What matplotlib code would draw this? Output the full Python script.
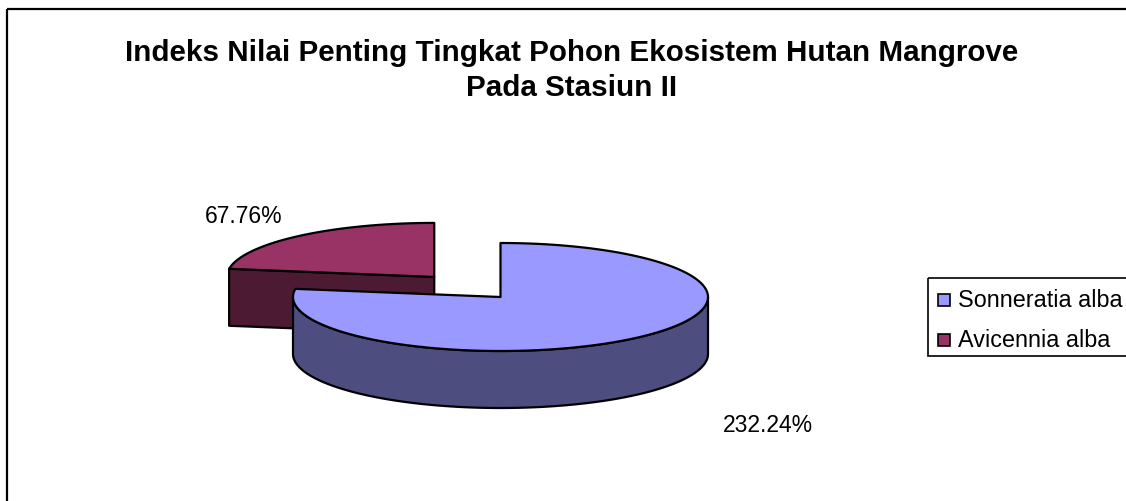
import numpy as np
import matplotlib
matplotlib.use("Agg")
import matplotlib.pyplot as plt
from matplotlib.patches import Polygon, Rectangle

plt.rcParams['font.family'] = ['Liberation Sans', 'DejaVu Sans']

# data
species = ["Sonneratia alba", "Avicennia alba"]
inp_values = [232.24, 67.76]
explode = [0.0, 0.49]
top_colors = ["#9999FF", "#993366"]
side_colors = ["#4D4D80", "#4D1A33"]

title_lines = ["Indeks Nilai Penting Tingkat Pohon Ekosistem Hutan Mangrove",
               "Pada Stasiun II"]

W, H = 1126, 502
CX, CY = 500.5, 298      # centre of the pie top (px)
RX, RY = 207.5, 54       # ellipse radii
DEPTH = 57
# label anchor positions (px), one per slice
label_xy = [(768, 426), (244, 217)]


def pt(theta, dx=0.0, dy=0.0, down=0.0):
    t = np.radians(theta)
    return np.column_stack([CX + dx + RX * np.cos(t),
                            CY + dy - RY * np.sin(t) + down])


fig = plt.figure(figsize=(W / 100, H / 100), dpi=100)
ax = fig.add_axes([0, 0, 1, 1])
ax.set_xlim(0, W)
ax.set_ylim(H, 0)
ax.axis('off')

# chart border (cut off at right/bottom like the original)
ax.add_patch(Rectangle((7, 10), W, H, fill=False, ec="black", lw=1.6, zorder=0))

# wedge angles, clockwise from 12 o'clock
total = sum(inp_values)
slices = []
start = 90.0
for i, v in enumerate(inp_values):
    span = 360.0 * v / total
    t1, t2 = start - span, start
    start = t1
    mid = np.radians((t1 + t2) / 2)
    dx = explode[i] * RX * np.cos(mid)
    dy = -explode[i] * RY * np.sin(mid)
    slices.append((i, t1, t2, dx, dy, np.sin(mid)))

# back slices first
slices.sort(key=lambda s: -s[5])
edge = dict(ec="black", lw=1.6, joinstyle="round")

for i, t1, t2, dx, dy, _ in slices:
    c = (CX + dx, CY + dy)
    # radial cut faces facing the viewer
    for phi, visible in ((t1, np.cos(np.radians(t1)) > 1e-6),
                         (t2, np.cos(np.radians(t2)) < -1e-6)):
        if visible:
            rim = pt(phi, dx, dy)[0]
            quad = [c, rim, (rim[0], rim[1] + DEPTH), (c[0], c[1] + DEPTH)]
            ax.add_patch(Polygon(quad, closed=True, fc=side_colors[i], **edge))
    # outer wall: front half of the ellipse (180..360 deg)
    for k in range(-2, 2):
        a = max(t1, 180 + 360 * k)
        b = min(t2, 360 + 360 * k)
        if b > a:
            th = np.linspace(a, b, 200)
            top = pt(th, dx, dy)
            bot = pt(th[::-1], dx, dy, DEPTH)
            ax.add_patch(Polygon(np.vstack([top, bot]), closed=True,
                                 fc=side_colors[i], **edge))
    # top face
    th = np.linspace(t1, t2, 300)
    face = np.vstack([[c], pt(th, dx, dy)])
    ax.add_patch(Polygon(face, closed=True, fc=top_colors[i], **edge))

# data labels
for i, v in enumerate(inp_values):
    ax.text(label_xy[i][0], label_xy[i][1], f"{v:.2f}%", fontsize=16.5,
            ha="center", va="center")

for j, line in enumerate(title_lines):
    ax.text(572, 61 + 35 * j, line, fontsize=21.3, fontweight="bold",
            ha="center", va="baseline")

# legend
ax.add_patch(Rectangle((928, 279), 250, 78, fill=False, ec="black", lw=1.2))
for i, name in enumerate(species):
    y = 301 + 40 * i
    ax.add_patch(Rectangle((938, y - 6), 12, 12, fc=top_colors[i], ec="black",
                           lw=1.2))
    ax.text(958, y, name, fontsize=16.8, ha="left", va="center")

fig.savefig("out.png", dpi=100)
